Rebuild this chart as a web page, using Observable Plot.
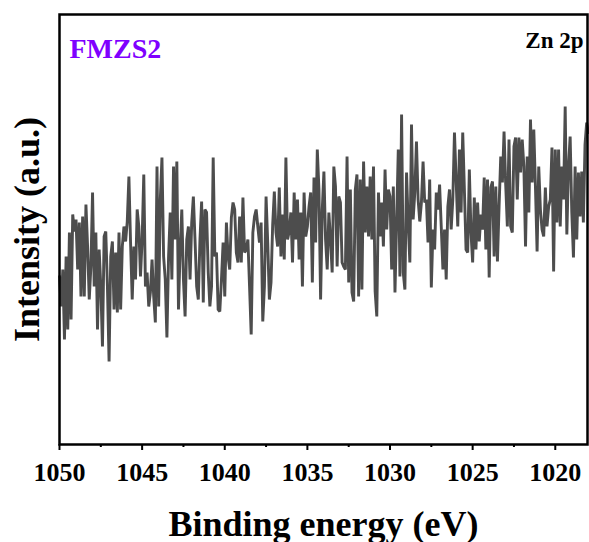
<!DOCTYPE html>
<html>
<head>
<meta charset="utf-8">
<script src="https://cdn.jsdelivr.net/npm/d3@7"></script>
<script src="https://cdn.jsdelivr.net/npm/@observablehq/plot@0.6"></script>
<style>
  html, body { margin: 0; padding: 0; background: #fff; }
</style>
</head>
<body>
<div id="chart"></div>
<script>
// Binding energy grid (eV)
const startEnergy = 1050;
const stepEnergy = 0.1;

// Intensity (a.u.), segment by segment
const seg1050 = [170,140,177,107,190,117,214,127,232,215,227,177,224,150,230,150,242,200,147,180,254,160,214,117,197,160,100,210,215,160,85,190,205,137,194,134,214,137,200,220,205,225,270];
const seg1046 = [204,147,200,167,237,220,170,207,272,160,174,140,154,187,150,124,280,140,247,289,190,167,109,190,234,167,280,207,285,137,197,237,167,130,207,220,167,224,250];
const seg1042 = [207,160,147,207,245,144,237,234,174,140,160,289,190,194,137,135,167,204,150,224,190,177,229,244,237,194,184,230,184,249,194,197,207,160,112,214,230,237,220,204,224];
const seg1038 = [125,160,250,204,147,164,222,255,214,200,259,190,232,187,289,207,215,234,184,254,207,247,187,234,160,254,210,220,240,254,164,269,204,297,257,147,237,275,207,177,234,207];
const seg1033 = [174,280,260,180,250,244,184,180,177,290,164,257,154,145,257,272,150,267,157,285,214,260,210,270,207,280,155,130,254,210,244,200,277,217,257,250,177,260,154,225,297];
const seg1029 = [170,332,174,157,274,224,184,322,227,254,305,247,225,244,285,244,247,204,267,159,217,197,254,237,262,220,177,217,167,240,257,217,247,314,267,220,297,234,314,257,197];
const seg1025 = [194,277,214,184,249,197,244,205,232,217,269,197,267,169,259,265,190,260,185,240,290,264,315,262,220,307,220,214,300,309,247,309,274,307,280,200,290,234,327,264,317,260];
const seg1021 = [195,280,237,217,210,259,220,240,247,299,175,297,224,297,220,280,247,340,212,280,310,234,189,280,207,274,230,275,224,302,324,314];

const intensity = [...seg1050, ...seg1046, ...seg1042, ...seg1038, ...seg1033, ...seg1029, ...seg1025, ...seg1021];
const energy = intensity.map((_, i) => +(startEnergy - i * stepEnergy).toFixed(1));
const spectrum = energy.map((e, i) => ({energy: e, intensity: intensity[i]}));

// Axis ticks and texts
const majorTicks = [1050, 1045, 1040, 1035, 1030, 1025, 1020];
const minorTicks = [1047.5, 1042.5, 1037.5, 1032.5, 1027.5, 1022.5];
const sampleLabel = ["FMZS2"];
const regionLabel = ["Zn 2p"];
const xLabel = ["Binding energy (eV)"];
const yLabel = ["Intensity (a.u.)"];

const serif = "'Liberation Serif', 'Times New Roman', Times, serif";

const chart = Plot.plot({
  width: 589,
  height: 542,
  marginLeft: 59,
  marginRight: 2,
  marginTop: 14,
  marginBottom: 98,
  style: {fontFamily: serif, background: "white", color: "black", overflow: "visible"},
  x: {domain: [1050, 1018.05], axis: null},
  y: {domain: [2, 432], axis: null},
  marks: [
    Plot.line(spectrum, {x: "energy", y: "intensity", stroke: "#4d4d4d", strokeWidth: 2.9, strokeLinejoin: "miter", strokeMiterlimit: 2}),
    Plot.axisX(minorTicks, {tickSize: 3, strokeWidth: 2, tickFormat: () => "", label: null}),
    Plot.axisX(majorTicks, {tickSize: 6, tickPadding: 12, strokeWidth: 2, tickFormat: d3.format("d"),
      fontSize: 26, fontWeight: "bold", label: null}),
    Plot.frame({stroke: "black", strokeWidth: 2.5}),
    Plot.text(sampleLabel, {text: d => d, frameAnchor: "top-left", dx: 10, dy: 43, textAnchor: "start",
      lineAnchor: "bottom", fill: "#7f00ff", fontSize: 28, fontWeight: "bold"}),
    Plot.text(regionLabel, {text: d => d, frameAnchor: "top-right", dx: -4, dy: 33, textAnchor: "end",
      lineAnchor: "bottom", fill: "black", fontSize: 23, fontWeight: "bold"}),
    Plot.text(xLabel, {text: d => d, frameAnchor: "bottom", dy: 91, textAnchor: "middle",
      lineAnchor: "bottom", fill: "black", fontSize: 36, fontWeight: "bold"}),
    Plot.text(yLabel, {text: d => d, frameAnchor: "left", dx: -21, rotate: -90, textAnchor: "middle",
      lineAnchor: "bottom", fill: "black", fontSize: 36, fontWeight: "bold"})
  ]
});
document.getElementById("chart").appendChild(chart);
</script>
</body>
</html>
